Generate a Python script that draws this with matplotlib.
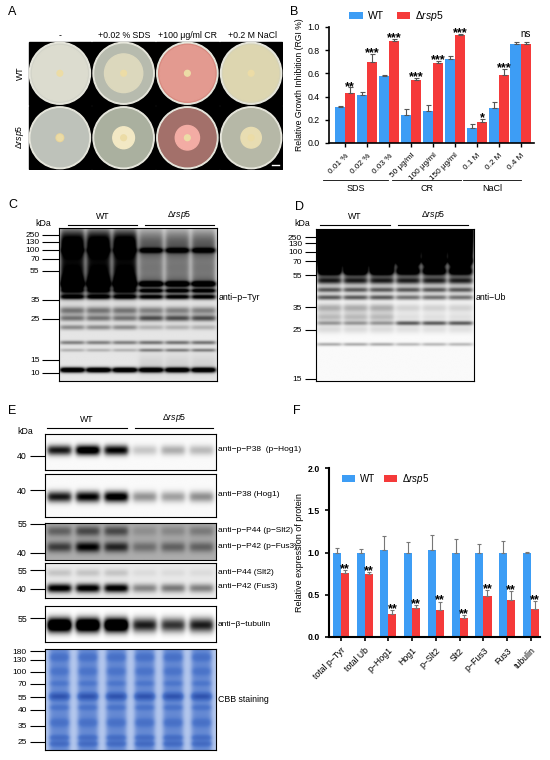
import numpy as np
import matplotlib.pyplot as plt
from matplotlib.patches import Circle, Rectangle
from matplotlib.colors import LinearSegmentedColormap

plt.rcParams['font.family'] = ['Liberation Sans', 'DejaVu Sans']
plt.rcParams['mathtext.fontset'] = 'custom'
plt.rcParams['mathtext.rm'] = 'Liberation Sans'
plt.rcParams['mathtext.it'] = 'Liberation Sans:italic'

# ---- data: panel B (relative growth inhibition)
b_labels = ['0.01 %', '0.02 %', '0.03 %', '50 μg/ml', '100 μg/ml', '150 μg/ml', '0.1 M', '0.2 M', '0.4 M']
b_groups = ['SDS', 'CR', 'NaCl']
b_wt = [0.31, 0.41, 0.58, 0.24, 0.28, 0.72, 0.13, 0.30, 0.85]
b_wt_err = [0.01, 0.03, 0.01, 0.05, 0.05, 0.03, 0.03, 0.05, 0.02]
b_mut = [0.43, 0.70, 0.88, 0.54, 0.69, 0.93, 0.18, 0.59, 0.85]
b_mut_err = [0.05, 0.07, 0.02, 0.02, 0.02, 0.01, 0.03, 0.05, 0.02]
b_sig = ['**', '***', '***', '***', '***', '***', '*', '***', 'ns']

# ---- data: panel F (relative expression)
f_labels = ['total p\u2212Tyr', 'total Ub', 'p\u2212Hog1', 'Hog1', 'p\u2212Slt2', 'Slt2', 'p\u2212Fus3', 'Fus3', 'tubulin']
f_wt = [1.00, 1.00, 1.03, 1.00, 1.03, 1.00, 1.00, 1.00, 0.99]
f_wt_err = [0.05, 0.04, 0.16, 0.13, 0.18, 0.16, 0.10, 0.14, 0.02]
f_mut = [0.76, 0.75, 0.27, 0.34, 0.32, 0.23, 0.48, 0.44, 0.33]
f_mut_err = [0.03, 0.02, 0.05, 0.04, 0.10, 0.03, 0.08, 0.10, 0.10]
f_sig = ['**'] * 9

# ---- panel A plates
a_cols = ['-', '+0.02 % SDS', '+100 μg/ml CR', '+0.2 M NaCl']
plate_col = [['#d3d4c9', '#b7bbae', '#d88a80', '#d6d3b6'],
             ['#bec2ba', '#aab09f', '#a3706a', '#b6b8a7']]
colony_col = [['#dcdccf', '#dcd8bd', '#e39a90', '#ddd6b0'],
              ['#e8d49a', '#f2e8c4', '#f3aca4', '#e8ddb2']]
colony_r = [[0.43, 0.30, 0.43, 0.43], [0.06, 0.17, 0.19, 0.16]]

BLUE = '#3d9df5'
RED = '#f53a3a'
MUT = 'Δ$\\mathit{rsp5}$'

W, H = 550, 760
fig = plt.figure(figsize=(5.5, 7.6), dpi=100)


def px_axes(x1, y1, x2, y2):
    return fig.add_axes([x1 / W, 1 - y2 / H, (x2 - x1) / W, (y2 - y1) / H])


def ftext(x, y, s, **kw):
    kw.setdefault('fontsize', 6.3)
    fig.text(x / W, 1 - y / H, s, **kw)


def fline(x1, x2, y, lw=0.8):
    fig.add_artist(plt.Line2D([x1 / W, x2 / W], [1 - y / H] * 2, color='black', lw=lw))


def wm(wt, mt):
    return [wt] * 3 + [mt] * 3


def blot(ax, bands, y1, y2, bg=0.04, hw=0.065, cmap='gray_r', gap_bg=None):
    yy = np.linspace(0, 1, 220)[:, None]
    xx = np.linspace(0, 1, 320)[None, :]
    dens = np.full((220, 320), bg if gap_bg is None else gap_bg)
    for i in range(6):
        c = (i + 0.5) / 6
        mask = 1 / (1 + np.exp((np.abs(xx - c) - hw) / 0.008))
        if gap_bg is not None:
            dens += (bg - gap_bg) * mask
        for yc, sig, amps in bands:
            dens = dens + amps[i] * np.exp(-0.5 * ((yy - yc) / sig) ** 2) * mask
    ax.imshow(np.clip(dens, 0, 1), cmap=cmap, vmin=0, vmax=1, aspect='auto',
              extent=[0, 1, y2, y1], interpolation='bilinear')
    ax.set_xlim(0, 1)
    ax.set_ylim(y2, y1)
    ax.set_xticks([])
    for s in ax.spines.values():
        s.set_linewidth(0.8)


def markers(ax, ys, labels, length=10, size=6.3):
    ax.set_yticks(ys)
    ax.set_yticklabels(labels)
    ax.tick_params(axis='y', length=length, width=0.8, labelsize=size, pad=2)


def panel_header(x1, x2, x3, x4, y):
    fline(x1, x2, y)
    fline(x3, x4, y)
    ftext((x1 + x2) / 2, y - 4, 'WT', ha='center', va='bottom')
    ftext((x3 + x4) / 2, y - 4, MUT, ha='center', va='bottom')


# ================= A =================
ftext(8, 12, 'A', fontsize=9, va='center')
axA = px_axes(28, 41, 283, 170)
axA.set_xlim(0, 4)
axA.set_ylim(2, 0)
axA.axis('off')
for r in range(2):
    for c in range(4):
        axA.add_patch(Rectangle((c + 0.01, r + 0.01), 0.98, 0.98, color='black'))
        axA.add_patch(Circle((c + 0.5, r + 0.5), 0.48, color='#e6e6dc'))
        axA.add_patch(Circle((c + 0.5, r + 0.5), 0.45, color=plate_col[r][c]))
        axA.add_patch(Circle((c + 0.5, r + 0.5), colony_r[r][c], color=colony_col[r][c]))
        axA.add_patch(Circle((c + 0.5, r + 0.5), 0.045, color='#ecdca6'))
axA.plot([3.82, 3.94], [1.93, 1.93], color='white', lw=1)
for c, t in enumerate(a_cols):
    ftext(28 + 64 * c + 32, 36, t, ha='center', va='center')
ftext(20, 73, 'WT', rotation=90, ha='center', va='center')
ftext(20, 137, MUT, rotation=90, ha='center', va='center')

# ================= B =================
ftext(290, 12, 'B', fontsize=9, va='center')
axB = px_axes(329, 27, 534, 143)
x = np.arange(len(b_labels))
bw = 0.47
axB.bar(x - bw / 2, b_wt, bw, color=BLUE, label='WT')
axB.bar(x + bw / 2, b_mut, bw, color=RED, label=MUT)
axB.errorbar(x - bw / 2, b_wt, yerr=[np.zeros(9), b_wt_err], fmt='none', ecolor='#555555',
             elinewidth=0.8, capsize=1.8, capthick=0.8)
axB.errorbar(x + bw / 2, b_mut, yerr=[np.zeros(9), b_mut_err], fmt='none', ecolor='#555555',
             elinewidth=0.8, capsize=1.8, capthick=0.8)
for i in range(9):
    if b_sig[i] == 'ns':
        axB.text(x[i] + bw / 2, b_mut[i] + b_mut_err[i] + 0.03, 'ns', ha='center', va='bottom', fontsize=7)
    else:
        axB.text(x[i] + bw / 2, b_mut[i] + b_mut_err[i] + 0.005, b_sig[i], ha='center', va='center',
                 fontsize=9, fontweight='bold')
axB.set_xlim(-0.73, 8.6)
axB.set_ylim(0, 1.0)
axB.set_yticks([0.0, 0.2, 0.4, 0.6, 0.8, 1.0])
axB.set_yticklabels(['0.0', '0.2', '0.4', '0.6', '0.8', '1.0'])
axB.set_xticks(x)
axB.set_xticklabels(b_labels, rotation=45, ha='right', rotation_mode='anchor', fontsize=5.9)
axB.tick_params(axis='y', labelsize=6.3)
axB.tick_params(width=1, length=3)
axB.set_ylabel('Relative Growth Inhibition (RGI %)', fontsize=6.2, labelpad=3)
for s in ['top', 'right']:
    axB.spines[s].set_visible(False)
for s in ['left', 'bottom']:
    axB.spines[s].set_linewidth(1.2)
for g, (a, b) in zip(b_groups, [(-1.0, 1.95), (2.14, 5.3), (5.36, 8.0)]):
    axB.plot([a, b], [-0.32, -0.32], color='black', lw=0.6, transform=axB.get_xaxis_transform(), clip_on=False)
    axB.text((a + b) / 2, -0.35, g, ha='center', va='top', fontsize=6.5, transform=axB.get_xaxis_transform())
fig.legend(handles=axB.get_legend_handles_labels()[0], labels=['WT', MUT], loc='center left',
           bbox_to_anchor=(340 / W, 1 - 16 / H), ncol=2, frameon=False, fontsize=7.5,
           handlelength=1.3, handleheight=0.7, columnspacing=1.2, handletextpad=0.5)

# ================= C =================
ftext(8, 205, 'C', fontsize=9, va='center')
ftext(35, 224, 'kDa', va='center')
panel_header(68, 137, 145, 214, 225)
axC = px_axes(59, 228, 217, 381)
c_bands = [
    (0.08, 0.06, wm(0.9, 0.45)),
    (0.17, 0.05, wm(0.7, 0.35)),
    (0.145, 0.012, wm(0.2, 0.6)),
    (0.26, 0.04, wm(0.6, 0.3)),
    (0.36, 0.05, wm(1.3, 0.5)),
    (0.365, 0.012, wm(0.3, 0.9)),
    (0.41, 0.01, wm(0.3, 0.8)),
    (0.45, 0.012, wm(0.8, 0.9)),
    (0.54, 0.018, wm(0.45, 0.4)),
    (0.59, 0.014, wm(0.45, 0.6)),
    (0.65, 0.012, wm(0.35, 0.2)),
    (0.75, 0.009, wm(0.4, 0.45)),
    (0.80, 0.008, wm(0.2, 0.4)),
    (0.90, 0.05, wm(0.0, 0.08)),
    (0.93, 0.012, wm(1.3, 1.2)),
]
blot(axC, c_bands, 228, 381, bg=0.1, hw=0.075)
markers(axC, [235, 242, 250, 259, 271, 300, 319, 360, 373],
        ['250', '130', '100', '70', '55', '35', '25', '15', '10'], length=12, size=6)
ftext(219, 298, 'anti\u2212p\u2212Tyr', va='center')

# ================= D =================
ftext(295, 207, 'D', fontsize=9, va='center')
ftext(294, 224, 'kDa', va='center')
panel_header(320, 390, 398, 468, 225)
axD = px_axes(316, 229, 474, 381)
d_bands = [
    (0.10, 0.12, wm(2.0, 2.0)),
    (0.00, 0.05, wm(1.0, 1.0)),
    (0.21, 0.045, wm(1.0, 0.0)),
    (0.21, 0.015, wm(0.0, 0.6)),
    (0.28, 0.018, wm(0.55, 0.65)),
    (0.34, 0.015, wm(0.6, 0.6)),
    (0.40, 0.012, wm(0.55, 0.55)),
    (0.45, 0.012, wm(0.6, 0.5)),
    (0.52, 0.02, wm(0.3, 0.15)),
    (0.58, 0.02, wm(0.25, 0.1)),
    (0.62, 0.01, wm(0.35, 0.6)),
    (0.66, 0.02, wm(0.12, 0.1)),
    (0.76, 0.008, wm(0.3, 0.25)),
]
blot(axD, d_bands, 229, 381, bg=0.02, hw=0.075)
markers(axD, [237, 243, 252, 261, 275, 307, 330, 379],
        ['250', '130', '100', '70', '55', '35', '25', '15'], length=8, size=6)
ftext(476, 298, 'anti\u2212Ub', va='center')

# ================= E =================
ftext(8, 411, 'E', fontsize=9, va='center')
ftext(17, 432, 'kDa', va='center')
panel_header(47, 127, 135, 213, 428)
e_blots = [
    (434, 470, [(0.45, 0.1, [0.9, 1.2, 1.0, 0.2, 0.3, 0.25])], 0.02, [456], ['40'],
     [(450, 'anti\u2212p\u2212P38  (p\u2212Hog1)')]),
    (474, 517, [(0.53, 0.09, [0.9, 1.0, 1.1, 0.4, 0.35, 0.42])], 0.02, [490], ['40'],
     [(495, 'anti\u2212P38 (Hog1)')]),
    (523, 560, [(0.22, 0.1, [0.3, 0.4, 0.4, 0.12, 0.15, 0.2]),
                (0.65, 0.1, [0.45, 0.7, 0.55, 0.25, 0.3, 0.3])], 0.32, [524, 553], ['55', '40'],
     [(531, 'anti\u2212p\u2212P44 (p\u2212Slt2)'), (547, 'anti\u2212p\u2212P42 (p\u2212Fus3)')]),
    (563, 598, [(0.28, 0.08, wm(0.15, 0.06)),
                (0.72, 0.09, [1.0, 1.0, 1.0, 0.4, 0.45, 0.42])], 0.08, [570, 589], ['55', '40'],
     [(573, 'anti\u2212P44 (Slt2)'), (587, 'anti\u2212P42 (Fus3)')]),
    (606, 642, [(0.53, 0.14, [1.6, 1.6, 1.6, 0.9, 0.8, 0.9])], 0.0, [618], ['55'],
     [(625, 'anti\u2212β\u2212tubulin')]),
]
for y1, y2, bands, bg, mk, mkl, labs in e_blots:
    ax = px_axes(45, y1, 216, y2)
    blot(ax, bands, y1, y2, bg=bg, hw=0.068)
    markers(ax, mk, mkl, length=11)
    for yy, t in labs:
        ftext(218, yy, t, va='center', fontsize=6)

cbb = LinearSegmentedColormap.from_list('cbb', ['#dbe6fa', '#4f78cc', '#1d3e9e'])
axCBB = px_axes(45, 649, 216, 750)
cbb_bands = [
    (0.5, 5.0, [0.42] * 6),
    (0.08, 0.03, [0.15] * 6),
    (0.22, 0.03, [0.12] * 6),
    (0.34, 0.02, [0.1] * 6),
    (0.47, 0.025, [0.4] * 6),
    (0.58, 0.02, [0.12] * 6),
    (0.73, 0.03, [0.15] * 6),
    (0.88, 0.02, [0.18] * 6),
    (0.94, 0.02, [0.2] * 6),
]
blot(axCBB, cbb_bands, 649, 750, bg=0.0, hw=0.058, cmap=cbb, gap_bg=0.12)
markers(axCBB, [651, 660, 672, 684, 697, 710, 726, 742],
        ['180', '130', '100', '70', '55', '40', '35', '25'], length=11, size=6)
ftext(218, 700, 'CBB staining', va='center')

# ================= F =================
ftext(293, 411, 'F', fontsize=9, va='center')
axF = px_axes(329, 468, 540, 637)
xf = np.arange(len(f_labels))
fw = 0.34
axF.bar(xf - fw / 2, f_wt, fw, color=BLUE, label='WT')
axF.bar(xf + fw / 2, f_mut, fw, color=RED, label=MUT)
axF.errorbar(xf - fw / 2, f_wt, yerr=[np.zeros(9), f_wt_err], fmt='none', ecolor='#777777',
             elinewidth=0.8, capsize=1.5, capthick=0.8)
axF.errorbar(xf + fw / 2, f_mut, yerr=[np.zeros(9), f_mut_err], fmt='none', ecolor='#777777',
             elinewidth=0.8, capsize=1.5, capthick=0.8)
for i in range(9):
    axF.text(xf[i] + fw / 2, f_mut[i] + f_mut_err[i] + 0.01, f_sig[i], ha='center', va='center',
             fontsize=9, fontweight='bold')
axF.set_xlim(-0.5, 8.38)
axF.set_ylim(0, 2.0)
axF.set_yticks([0.0, 0.5, 1.0, 1.5, 2.0])
axF.set_yticklabels(['0.0', '0.5', '1.0', '1.5', '2.0'], fontweight='bold')
axF.set_xticks(xf)
axF.set_xticklabels(f_labels, rotation=45, ha='right', rotation_mode='anchor')
axF.tick_params(labelsize=6.3, width=1.2, length=3)
axF.set_ylabel('Relative expression of protein', fontsize=6.5, labelpad=3)
for s in ['top', 'right']:
    axF.spines[s].set_visible(False)
for s in ['left', 'bottom']:
    axF.spines[s].set_linewidth(1.5)
axF.legend(loc='upper left', bbox_to_anchor=(0.02, 1.03), ncol=2, frameon=False, fontsize=7,
           handlelength=1.3, handleheight=0.7, columnspacing=1.0, handletextpad=0.5)

fig.savefig('out.png', dpi=100)
